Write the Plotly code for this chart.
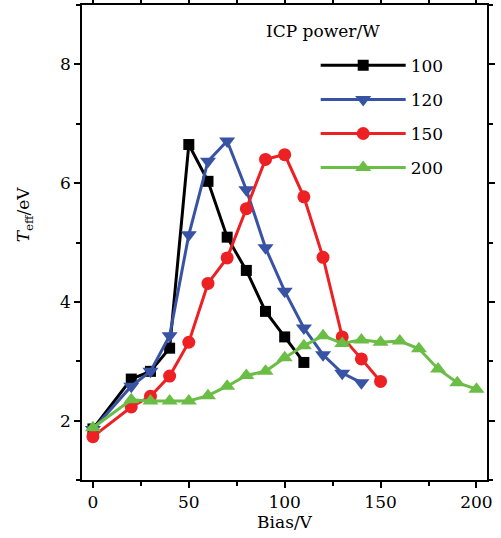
import plotly.graph_objects as go

bias_100 = [0, 20, 30, 40, 50, 60, 70, 80, 90, 100, 110]
teff_100 = [1.86, 2.70, 2.83, 3.22, 6.65, 6.03, 5.09, 4.53, 3.84, 3.41, 2.98]

bias_120 = [0, 20, 30, 40, 50, 60, 70, 80, 90, 100, 110, 120, 130, 140]
teff_120 = [1.85, 2.58, 2.83, 3.43, 5.13, 6.37, 6.71, 5.89, 4.91, 4.18, 3.56, 3.11, 2.80, 2.64]

bias_150 = [0, 20, 30, 40, 50, 60, 70, 80, 90, 100, 110, 120, 130, 140, 150]
teff_150 = [1.73, 2.23, 2.41, 2.75, 3.32, 4.31, 4.74, 5.57, 6.40, 6.48, 5.77, 4.75, 3.41, 3.04, 2.66]

bias_200 = [0, 20, 30, 40, 50, 60, 70, 80, 90, 100, 110, 120, 130, 140, 150, 160, 170, 180, 190, 200]
teff_200 = [1.88, 2.35, 2.33, 2.33, 2.33, 2.42, 2.58, 2.76, 2.83, 3.06, 3.26, 3.43, 3.30, 3.36, 3.32, 3.34, 3.21, 2.87, 2.64, 2.53]

series = [
    ("100", bias_100, teff_100, "#000000", "square", 11),
    ("120", bias_120, teff_120, "#3953a4", "triangle-down", 14),
    ("150", bias_150, teff_150, "#ed2024", "circle", 13),
    ("200", bias_200, teff_200, "#6abd45", "triangle-up", 14),
]

FONT = "DejaVu Serif"

fig = go.Figure()
for name, x, y, color, sym, size in series:
    fig.add_trace(go.Scatter(
        x=x, y=y, name=name, mode="lines+markers", legendgroup=name,
        line=dict(color=color, width=3),
        marker=dict(symbol=sym, size=size, color=color),
    ))

axis_common = dict(
    showline=True, linecolor="black", linewidth=1.5, mirror="ticks",
    ticks="outside", ticklen=6, tickwidth=1.5, tickcolor="black",
    showgrid=False, zeroline=False, automargin=False,
    tickfont=dict(family=FONT, size=17, color="black"),
)

fig.update_xaxes(
    range=[-5.7, 205.5], dtick=50, tick0=0,
    minor=dict(dtick=25, tick0=0, ticks="outside", ticklen=4, tickwidth=1.5, tickcolor="black"),
    title=dict(text="Bias/V", font=dict(family=FONT, size=17, color="black"), standoff=4),
    **axis_common,
)
fig.update_yaxes(
    range=[1, 9], dtick=2, tick0=0,
    minor=dict(dtick=1, tick0=0, ticks="outside", ticklen=4, tickwidth=1.5, tickcolor="black"),
    **axis_common,
)

# y-axis title (placed as in the reference, above the axis centre)
fig.add_annotation(
    text="<i>T</i><sub>eff</sub>/eV", xref="paper", yref="paper", x=-0.14, y=0.56,
    xanchor="center", yanchor="middle", textangle=-90, showarrow=False,
    font=dict(family=FONT, size=17, color="black"),
)

fig.add_annotation(
    text="ICP power/W", xref="paper", yref="paper", x=0.595, y=0.945,
    xanchor="center", yanchor="middle", showarrow=False,
    font=dict(family=FONT, size=17, color="black"),
)

fig.update_layout(
    width=501, height=538,
    margin=dict(l=82, r=14, t=5, b=58),
    paper_bgcolor="white", plot_bgcolor="white",
    showlegend=True,
    legend=dict(
        x=0.577, y=0.91, xanchor="left", yanchor="top",
        font=dict(family=FONT, size=17, color="black"),
        bgcolor="rgba(0,0,0,0)", itemwidth=85, tracegroupgap=9,
    ),
)

fig.write_html("out.html", config={"displayModeBar": False},
               post_script="document.body.style.margin='0';document.body.style.overflow='hidden';")
